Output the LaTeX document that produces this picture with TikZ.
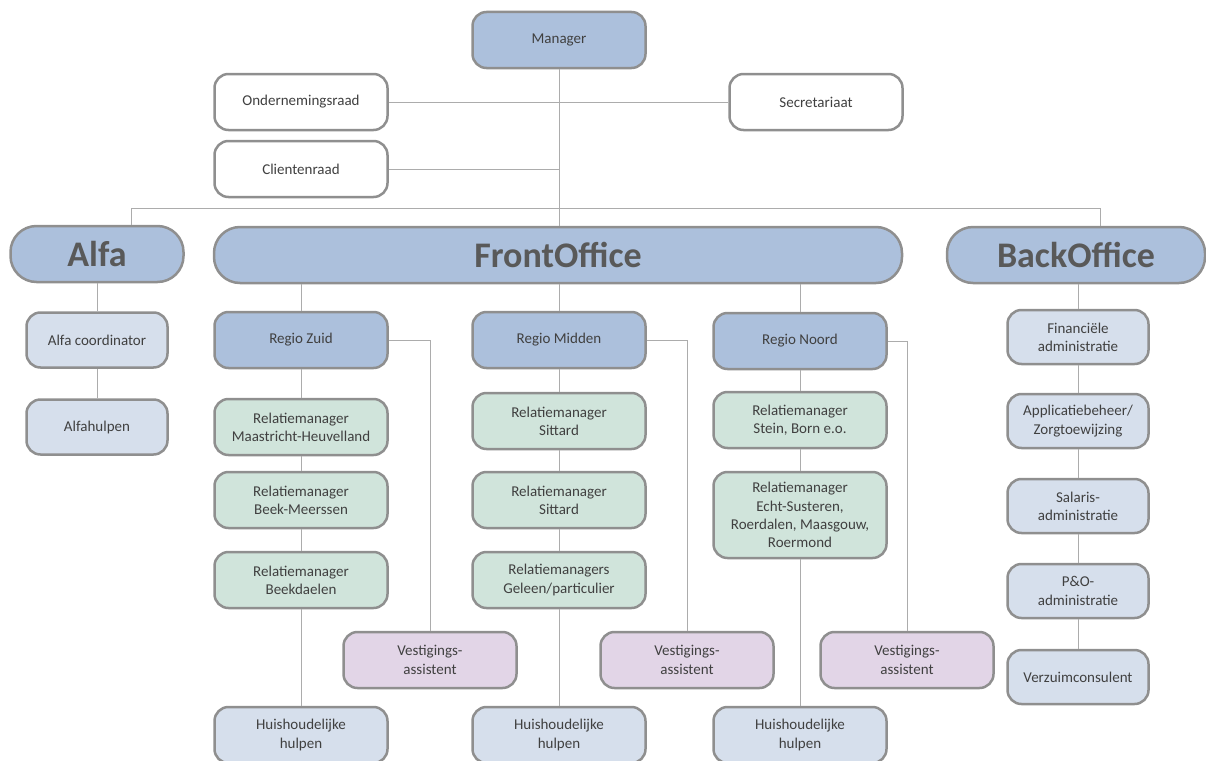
\documentclass[tikz,border=0pt]{standalone}
\usepackage{fontspec}
\setmainfont{Carlito}
\usetikzlibrary{positioning}

\definecolor{boxline}{RGB}{143,143,143}
\definecolor{linkline}{RGB}{172,172,172}
\definecolor{headblue}{RGB}{172,192,220}
\definecolor{paleblue}{RGB}{214,223,236}
\definecolor{palegreen}{RGB}{208,228,219}
\definecolor{palepurple}{RGB}{226,213,231}
\definecolor{txt}{RGB}{64,64,64}
\definecolor{bigtxt}{RGB}{89,89,89}

\tikzset{
  unitbox/.style={draw=boxline, line width=2.5pt, rounded corners=14pt,
    text=txt, align=center, inner sep=2pt,
    minimum width=173pt, minimum height=56pt,
    font=\fontsize{15}{18.3}\selectfont},
  topbox/.style={unitbox, fill=white},
  headbox/.style={unitbox, fill=headblue},
  groupbox/.style={headbox, rounded corners=26pt, text=bigtxt,
    font=\fontsize{36}{40}\selectfont\bfseries},
  relbox/.style={unitbox, fill=palegreen},
  vestbox/.style={unitbox, fill=palepurple},
  staffbox/.style={unitbox, fill=paleblue},
  link/.style={draw=linkline, line width=1pt}
}

\begin{document}
\begin{tikzpicture}[x=1pt,y=-1pt]
  \useasboundingbox (0,0) rectangle (1206,760);

  % --- top: manager and advisory bodies ---
  \node[headbox] (mgr) at (559,40) {Manager};
  \node[topbox] (onr) at (301,102) {Ondernemingsraad};
  \node[topbox] (sec) at (816,102) {Secretariaat};
  \node[topbox] (clr) at (301,169) {Clientenraad};

  % --- the three groups ---
  \node[groupbox] (alfa) at (97,254) {Alfa};
  \node[groupbox, minimum width=688pt] (front) at (558,255) {FrontOffice};
  \node[groupbox, minimum width=258pt] (back) at (1076,255) {BackOffice};

  % --- Alfa ---
  \node[staffbox, minimum width=141pt, minimum height=55pt] (alfac) at (97,340) {Alfa coordinator};
  \node[staffbox, minimum width=141pt, minimum height=55pt] (alfah) at (97,427) {Alfahulpen};

  % --- regio Zuid ---
  \node[headbox] (rz) at (301,340) {Regio Zuid};
  \node[relbox] (rz1) at (301,427) {Relatiemanager\\Maastricht-Heuvelland};
  \node[relbox] (rz2) at (301,500) {Relatiemanager\\Beek-Meerssen};
  \node[relbox] (rz3) at (301,580) {Relatiemanager\\Beekdaelen};
  \node[vestbox] (vz) at (430,660) {Vestigings-\\assistent};
  \node[staffbox] (hz) at (301,735) {Huishoudelijke\\hulpen};

  % --- regio Midden ---
  \node[headbox] (rm) at (559,340) {Regio Midden};
  \node[relbox] (rm1) at (559,421) {Relatiemanager\\Sittard};
  \node[relbox] (rm2) at (559,500) {Relatiemanager\\Sittard};
  \node[relbox] (rm3) at (559,580) {Relatiemanagers\\Geleen/particulier};
  \node[vestbox] (vm) at (687,660) {Vestigings-\\assistent};
  \node[staffbox] (hm) at (559,735) {Huishoudelijke\\hulpen};

  % --- regio Noord ---
  \node[headbox] (rn) at (800,341) {Regio Noord};
  \node[relbox] (rn1) at (800,420) {Relatiemanager\\Stein, Born e.o.};
  \node[relbox, minimum height=86pt] (rn2) at (800,515) {Relatiemanager\\Echt-Susteren,\\Roerdalen, Maasgouw,\\Roermond};
  \node[vestbox] (vn) at (907,660) {Vestigings-\\assistent};
  \node[staffbox] (hn) at (800,735) {Huishoudelijke\\hulpen};

  % --- BackOffice ---
  \foreach \n/\y/\t in {b1/337/{Financiële\\administratie},
                        b2/421/{Applicatiebeheer/\\Zorgtoewijzing},
                        b3/506/{Salaris-\\administratie},
                        b4/591/{P\&O-\\administratie},
                        b5/677/{Verzuimconsulent}} {
    \node[staffbox, minimum width=141pt, minimum height=54pt] (\n) at (1078,\y) {\t};
  }

  % --- connectors at the top ---
  \draw[link] (mgr.south) -- (mgr.south |- front.north);
  \draw[link] (onr.east) -- (sec.west);
  \draw[link] (clr.east) -- (clr.east -| mgr.south);
  \coordinate (busL) at (131,208);
  \coordinate (busR) at (1100,208);
  \draw[link] (alfa.north -| busL) -- (busL) -- (busR) -- (back.north -| busR);

  % --- FrontOffice to the regios ---
  \foreach \r in {rz,rm,rn} {
    \draw[link] (\r.north |- front.south) -- (\r.north);
  }
  \draw[link] (rz.east) -| (vz.north);
  \draw[link] (rm.east) -| (vm.north);
  \draw[link] (rn.east) -| (vn.north);
  \draw[link] (b1.north |- back.south) -- (b1.north);

  % --- vertical chains ---
  \foreach \a/\b in {alfa/alfac, alfac/alfah,
                     rz/rz1, rz1/rz2, rz2/rz3, rz3/hz,
                     rm/rm1, rm1/rm2, rm2/rm3, rm3/hm,
                     rn/rn1, rn1/rn2, rn2/hn,
                     b1/b2, b2/b3, b3/b4, b4/b5} {
    \draw[link] (\a) -- (\b);
  }
\end{tikzpicture}
\end{document}
